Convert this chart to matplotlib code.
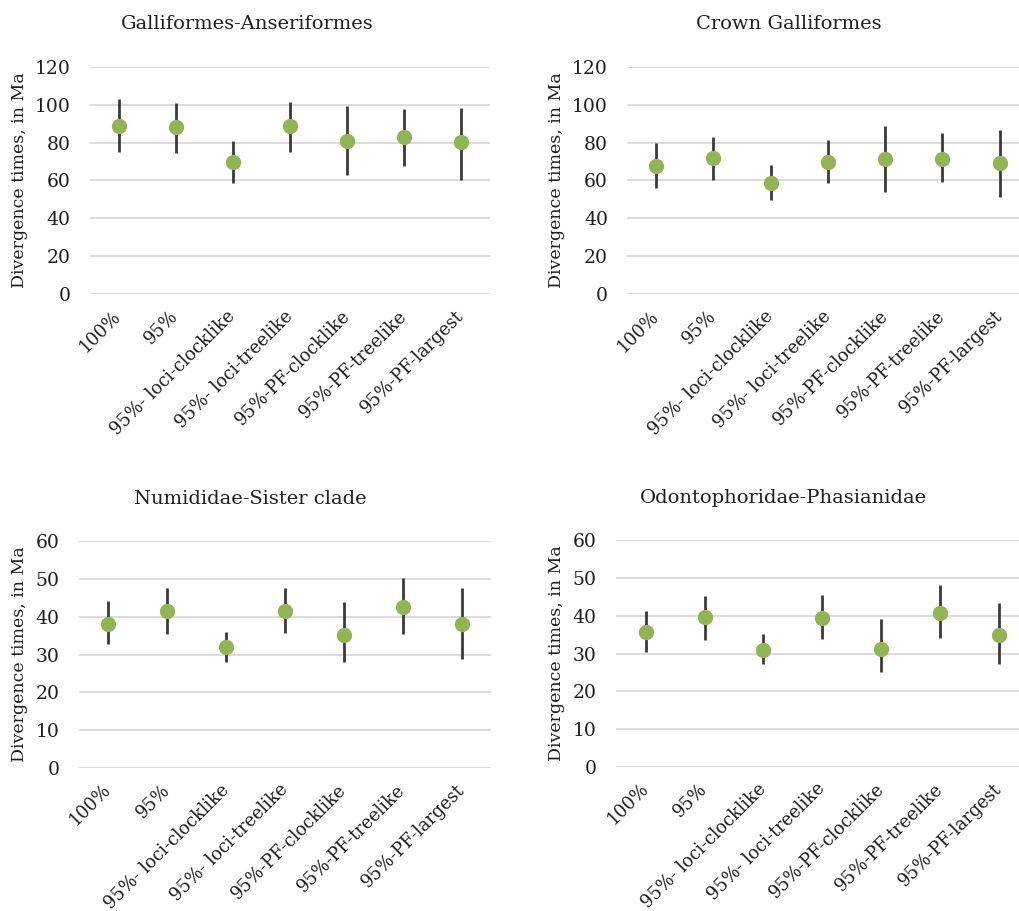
import numpy as np
from matplotlib import pyplot as plt

plt.rcParams['font.family'] = ['DejaVu Serif']

labels = ["100%", "95%", "95%- loci-clocklike", "95%- loci-treelike",
          "95%-PF-clocklike", "95%-PF-treelike", "95%-PF-largest"]

titles = ["Galliformes-Anseriformes", "Crown Galliformes",
          "Numididae-Sister clade", "Odontophoridae-Phasianidae"]

# mean, lower, upper (Ma)
ga_mean = [89.0, 88.2, 69.7, 88.7, 81.0, 83.0, 80.1]
ga_lo = [74.8, 74.6, 58.6, 75.0, 63.0, 67.9, 60.5]
ga_hi = [102.8, 101.2, 80.6, 101.7, 99.5, 97.9, 98.3]

cg_mean = [67.9, 72.0, 58.6, 69.8, 71.6, 71.4, 69.1]
cg_lo = [56.2, 60.0, 49.6, 58.9, 53.8, 59.1, 51.5]
cg_hi = [79.7, 83.2, 68.1, 81.3, 88.7, 85.3, 86.6]

nu_mean = [38.2, 41.6, 32.0, 41.5, 35.2, 42.7, 38.2]
nu_lo = [32.7, 35.5, 28.0, 35.6, 28.0, 35.5, 28.9]
nu_hi = [44.2, 47.7, 35.9, 47.7, 43.8, 50.4, 47.7]

op_mean = [35.8, 39.6, 31.0, 39.3, 31.3, 40.8, 34.8]
op_lo = [30.5, 33.6, 27.3, 33.9, 25.0, 34.1, 27.2]
op_hi = [41.2, 45.3, 35.1, 45.4, 39.2, 48.3, 43.5]

panels = [
    (ga_mean, ga_lo, ga_hi, 120, 20),
    (cg_mean, cg_lo, cg_hi, 120, 20),
    (nu_mean, nu_lo, nu_hi, 60, 10),
    (op_mean, op_lo, op_hi, 60, 10),
]

# axes rectangles in figure fraction
rects = [
    [0.0883, 0.6773, 0.3925, 0.2492],
    [0.6157, 0.6773, 0.3935, 0.2492],
    [0.0775, 0.1573, 0.4043, 0.2485],
    [0.6048, 0.1584, 0.4043, 0.2484],
]
ylab_x = [-0.155, -0.156, -0.124, -0.125]
title_x = [0.3925, 0.403, 0.415, 0.406]

fig = plt.figure(figsize=(10.19, 9.11), dpi=100)

for i in range(4):
    mean, lo, hi, ymax, step = panels[i]
    ax = fig.add_axes(rects[i])
    x = np.arange(len(labels))
    mean = np.array(mean)
    err = [mean - np.array(lo), np.array(hi) - mean]
    ax.errorbar(x, mean, yerr=err, fmt="o", color="#92b356", ms=10,
                ecolor="#3a3a3a", elinewidth=2, capsize=0, zorder=3)
    ax.set_xlim(-0.5, len(labels) - 0.5)
    ax.set_ylim(0, ymax)
    ax.set_yticks(np.arange(0, ymax + 1, step))
    ax.grid(axis="y", color="#d9d9d9", lw=1.3)
    ax.set_axisbelow(True)
    for s in ax.spines.values():
        s.set_visible(False)
    ax.tick_params(length=0, colors="#1e1e1e")
    ax.tick_params(axis="y", pad=14, labelsize=13.5)
    ax.tick_params(axis="x", pad=14, labelsize=12.8)
    ax.set_xticks(x)
    ax.set_xticklabels(labels, rotation=45, ha="right", va="center",
                       rotation_mode="anchor")
    ax.set_ylabel("Divergence times, in Ma", fontsize=12.5, color="#1e1e1e")
    ax.yaxis.set_label_coords(ylab_x[i], 0.5)
    ax.set_title(titles[i], fontsize=14, color="#1e1e1e", pad=27, x=title_x[i])

plt.savefig("out.png", dpi=100)
